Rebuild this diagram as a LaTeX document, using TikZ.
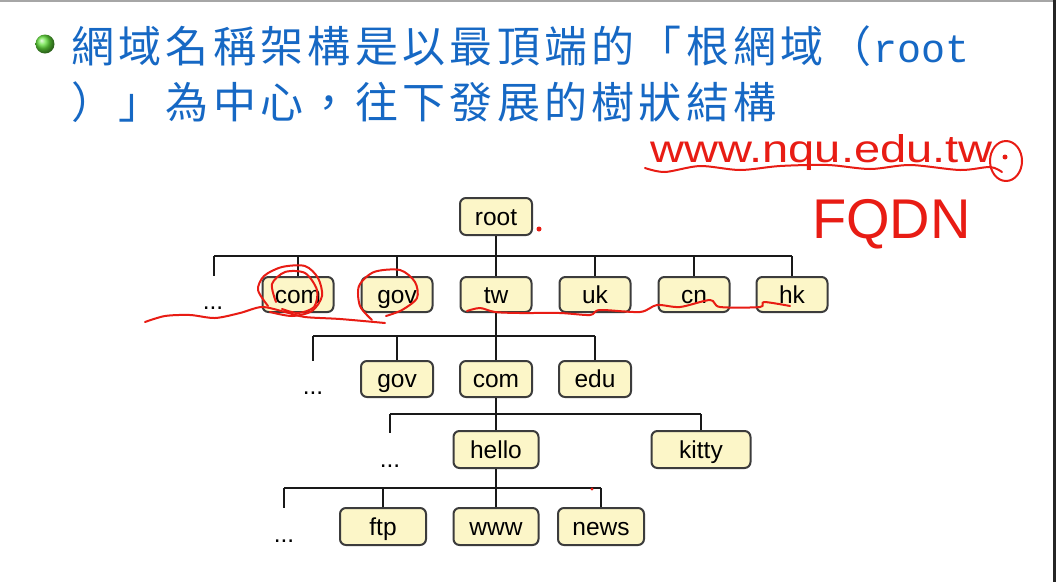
\documentclass[tikz,border=0pt]{standalone}
\usepackage{fontspec}
\setmainfont{Liberation Sans}
\newfontfamily\cjk{Noto Sans CJK TC}
\newfontfamily\monof{Liberation Mono}
\definecolor{tblue}{RGB}{22,104,196}
\definecolor{boxfill}{RGB}{252,246,200}
\definecolor{boxline}{RGB}{60,60,60}
\definecolor{hred}{RGB}{232,28,20}
\definecolor{bgreen}{RGB}{100,225,60}
\def\spreadaux#1{\ifx\relax#1\else\makebox[47.3pt][c]{#1}\expandafter\spreadaux\fi}
\newcommand\spreadchars[1]{\spreadaux#1\relax}
\begin{document}
\begin{tikzpicture}[x=1pt,y=-1pt,
  box/.style={draw=boxline, fill=boxfill, line width=2pt, rounded corners=6pt,
    inner sep=0pt, font=\fontsize{24.5}{29}\selectfont, text height=20pt, text depth=3pt},
  w71/.style={minimum width=71pt, minimum height=35pt},
  w72/.style={minimum width=72pt, minimum height=37pt},
  w85/.style={minimum width=85pt, minimum height=37pt},
  w99/.style={minimum width=99pt, minimum height=37pt},
  link/.style={line width=2pt, draw=black!90},
  dotsn/.style={anchor=base, inner sep=0pt, font=\fontsize{24.5}{29}\selectfont},
  ink/.style={draw=hred, line width=2pt, line cap=round, line join=round},
  title/.style={anchor=base west, inner sep=0pt, text=tblue, font=\cjk\fontsize{43}{50}\selectfont}]
\useasboundingbox (0,0) rectangle (1056,582);
\fill[white] (0,0) rectangle (1056,582);
\fill[black!35] (0,0) rectangle (1056,1.5);
\fill[black!85] (1053,0) rectangle (1056,582);

% bullet and title
\shade[ball color=bgreen] (45,44) circle (9.5);
\node[title] (t1) at (69,62) {\spreadchars{網域名稱架構是以最頂端的「根網域（}{\monof\fontsize{40}{46}\selectfont root}};
\node[title] (t2) at (69,118) {\spreadchars{）」為中心，往下發展的樹狀結構}};

% tree nodes
\node[box,w72] (root) at (496,216.5) {root};
\node[box,w71] (com) at (298,294.5) {com};
\node[box,w71] (gov) at (397,294.5) {gov};
\node[box,w71] (tw) at (496,294.5) {tw};
\node[box,w71] (uk) at (595,294.5) {uk};
\node[box,w71] (cn) at (694,294.5) {cn};
\node[box,w71] (hk) at (792,294.5) {hk};
\node[box,w72,minimum height=36pt] (gov3) at (397,379) {gov};
\node[box,w72,minimum height=36pt] (com3) at (496,379) {com};
\node[box,w72,minimum height=36pt] (edu) at (595,379) {edu};
\node[box,w85] (hello) at (496,449.5) {hello};
\node[box,w99] (kitty) at (701,449.5) {kitty};
\node[box,w85,minimum width=86pt] (ftp) at (383,526.5) {ftp};
\node[box,w85] (www) at (496,526.5) {www};
\node[box,w85,minimum width=86pt] (news) at (601,526.5) {news};

\node[dotsn] (d1) at (213,309) {...};
\node[dotsn] (d2) at (313,394) {...};
\node[dotsn] (d3) at (390,467) {...};
\node[dotsn] (d4) at (284,542) {...};

% connectors
\coordinate (b1) at (214,256); \coordinate (s1) at (214,276);
\coordinate (b2) at (313,336); \coordinate (s2) at (313,361);
\coordinate (b3) at (390,414); \coordinate (s3) at (390,433);
\coordinate (b4) at (284,488); \coordinate (s4) at (284,508);

\draw[link] (root.south) -- (root.south |- b1);
\draw[link] (b1) -- (hk.north |- b1);
\draw[link] (b1) -- (s1);
\foreach \n in {com,gov,tw,uk,cn,hk} {\draw[link] (\n.north) -- (\n.north |- b1);}

\draw[link] (tw.south) -- (tw.south |- b2);
\draw[link] (b2) -- (edu.north |- b2);
\draw[link] (b2) -- (s2);
\foreach \n in {gov3,com3,edu} {\draw[link] (\n.north) -- (\n.north |- b2);}

\draw[link] (com3.south) -- (com3.south |- b3);
\draw[link] (b3) -- (kitty.north |- b3);
\draw[link] (b3) -- (s3);
\foreach \n in {hello,kitty} {\draw[link] (\n.north) -- (\n.north |- b3);}

\draw[link] (hello.south) -- (hello.south |- b4);
\draw[link] (b4) -- (news.north |- b4);
\draw[link] (b4) -- (s4);
\foreach \n in {ftp,www,news} {\draw[link] (\n.north) -- (\n.north |- b4);}

% handwritten annotations
\node[anchor=base west, inner sep=0pt, text=hred, font=\fontsize{42}{50}\selectfont] (url) at (650,162) {\scalebox{1.12}[0.92]{www.nqu.edu.tw}};
\node[anchor=base west, inner sep=0pt, text=hred, font=\fontsize{56}{60}\selectfont] (fqdn) at (812,238) {FQDN};
\draw[ink] plot[smooth] coordinates {(645,168) (665,172) (700,166) (740,170) (780,166) (828,165) (870,169) (910,165) (960,170) (990,167) (1002,172)};
\draw[ink] (1006,161) ellipse [x radius=16, y radius=20];
\fill[hred] (1005,157) circle (2.5);

\draw[ink] plot[smooth] coordinates {(268,306) (258,290) (264,276) (282,267) (305,266) (318,278) (322,296) (312,311) (292,316) (270,312)};
\draw[ink] plot[smooth] coordinates {(276,302) (272,284) (285,272) (305,273) (317,290) (314,307) (298,313) (282,309)};
\draw[ink] plot[smooth] coordinates {(372,320) (360,306) (359,286) (374,272) (400,270) (415,282) (417,298) (402,310) (386,316)};
\draw[ink] plot[smooth] coordinates {(145,322) (165,316) (190,315) (215,318) (240,313) (262,307) (285,312) (305,317) (340,319) (385,323)};
\draw[ink] plot[smooth] coordinates {(467,311) (480,308) (495,312) (520,313) (560,313) (590,315) (600,310) (640,312) (657,305) (680,307) (710,300) (720,307) (760,307) (764,302) (790,306)};
\fill[hred] (539,229) circle (2.5);
\fill[hred] (592,489) circle (1.6);
\end{tikzpicture}
\end{document}
